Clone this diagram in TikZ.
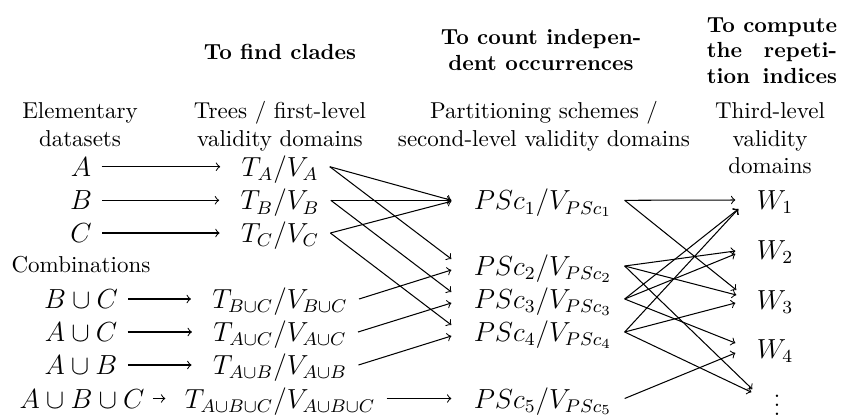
\documentclass[tikz,border=0pt]{standalone}
\usepackage{amsmath}
\usepackage{calc}
\begin{document}
\begin{tikzpicture}[x=0.435pt,y=-0.435pt,
  mth/.style={inner sep=0pt, font=\large, text height=9pt, text depth=0.6pt},
  lbl/.style={inner sep=0pt, align=center, font=\fontsize{10}{12}\selectfont},
  hdr/.style={inner sep=0pt, align=center, font=\fontsize{9.5}{11.2}\selectfont\bfseries},
  ar/.style={->, line width=0.45pt}]
\useasboundingbox (0,0) rectangle (846,415);

% headers
\node[hdr, anchor=base] (h1) at (280,59) {To find clades};
\node[hdr, anchor=north] (h2) at (541,29) {To count indepen-\\dent occurrences};
\node[hdr, anchor=north] (h3) at (772,17) {To compute\\\makebox[\widthof{To compute}][s]{the repeti-}\\\makebox[\widthof{To compute}][s]{tion indices}};

% sub headers
\node[lbl, anchor=north] (s1) at (80,102) {Elementary\\datasets};
\node[lbl, anchor=north] (s2) at (280,101) {Trees / first-level\\validity domains};
\node[lbl, anchor=north] (s3) at (544,101) {Partitioning schemes /\\second-level validity domains};
\node[lbl, anchor=north] (s4) at (770,102) {Third-level\\validity\\domains};

% column 1
\node[mth] (A) at (81,166.7) {$A$};
\node[mth] (B) at (81,200.3) {$B$};
\node[mth] (C) at (81,233) {$C$};
\node[lbl, anchor=base] (comb) at (81,272) {Combinations};
\node[mth] (BC) at (81,299) {$B\cup C$};
\node[mth] (AC) at (81,332) {$A\cup C$};
\node[mth] (AB) at (81,365) {$A\cup B$};
\node[mth] (ABC) at (82,398.5) {$A\cup B\cup C$};

% column 2
\node[mth] (TA) at (280,166.7) {$T_A/V_A$};
\node[mth] (TB) at (280,200.3) {$T_B/V_B$};
\node[mth] (TC) at (280,233) {$T_C/V_C$};
\node[mth] (TBC) at (280,299) {$T_{B\cup C}/V_{B\cup C}$};
\node[mth] (TAC) at (280,332) {$T_{A\cup C}/V_{A\cup C}$};
\node[mth] (TAB) at (280,365) {$T_{A\cup B}/V_{A\cup B}$};
\node[mth] (TABC) at (280,398.5) {$T_{A\cup B\cup C}/V_{A\cup B\cup C}$};

% column 3
\node[mth] (P1) at (543,200.3) {$PSc_1/V_{PSc_1}$};
\node[mth] (P2) at (543,266) {$PSc_2/V_{PSc_2}$};
\node[mth] (P3) at (543,299) {$PSc_3/V_{PSc_3}$};
\node[mth] (P4) at (543,332) {$PSc_4/V_{PSc_4}$};
\node[mth] (P5) at (543,398.5) {$PSc_5/V_{PSc_5}$};

% column 4
\node[mth] (W1) at (775,200) {$W_1$};
\node[mth] (W2) at (775,250) {$W_2$};
\node[mth] (W3) at (775,300) {$W_3$};
\node[mth] (W4) at (775,349) {$W_4$};
\node[inner sep=0pt, anchor=base] (vd) at (777,415.5) {$\vdots$};

% column 1 -> column 2
\foreach \s/\t in {A/TA,B/TB,C/TC,BC/TBC,AC/TAC,AB/TAB}
  \draw[ar] ([shift={(10,0)}]\s.east) -- ([shift={(-21,0)}]\t.west);
\draw[ar] ([shift={(8,0)}]ABC.east) -- ([shift={(-19,0)}]TABC.west);

% column 2 -> column 3
\foreach \s/\t/\d in {TA/P1/0,TA/P2/-7,TB/P1/0,TB/P3/-7,TC/P1/1,TC/P4/-7,
                      TBC/P2/4,TAC/P3/4,TAB/P4/4,TABC/P5/0}
  \draw[ar] ([shift={(11,0)}]\s.east) -- ([shift={(-22,\d)}]\t.west);

% column 3 -> column 4
\foreach \s/\t/\dx/\d in {P1/W1/-21/0,P1/W3/-20/-10,
                          P2/W2/-21/1,P2/W3/-20/-5,P2/vd/-21/-9,
                          P3/W1/-18/9,P3/W2/-21/4,P3/W4/-21/-6,
                          P4/W1/-18/9,P4/W3/-21/3,P4/vd/-22/-6,
                          P5/W4/-21/4}
  \draw[ar] ([shift={(12,0)}]\s.east) -- ([shift={(\dx,\d)}]\t.west);
\end{tikzpicture}
\end{document}
